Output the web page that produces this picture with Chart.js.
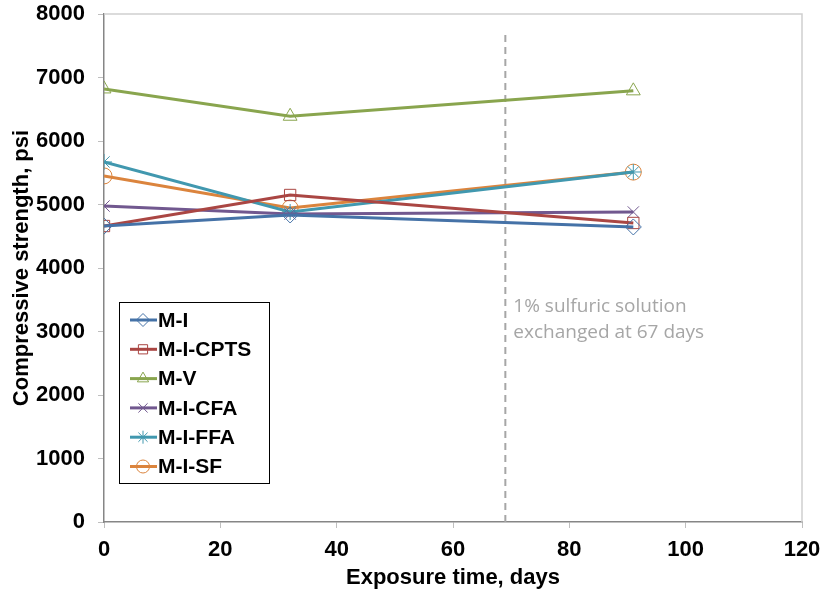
<!DOCTYPE html>
<html>
<head>
<meta charset="utf-8">
<script src="https://cdn.jsdelivr.net/npm/chart.js@4"></script>
<style>
html,body{margin:0;padding:0;background:#fff;}
#wrap{width:826px;height:600px;}
</style>
</head>
<body>
<div id="wrap"><canvas id="c" width="826" height="600"></canvas></div>
<script>
const days = [0, 32, 91];
const seriesNames = ["M-I", "M-I-CPTS", "M-V", "M-I-CFA", "M-I-FFA", "M-I-SF"];
const mI     = [4660, 4835, 4646];
const mICPTS = [4661, 5150, 4709];
const mV     = [6820, 6390, 6790];
const mICFA  = [4976, 4850, 4882];
const mIFFA  = [5670, 4882, 5512];
const mISF   = [5450, 4945, 5510];
const yTicks = [0, 1000, 2000, 3000, 4000, 5000, 6000, 7000, 8000];
const xTicks = [0, 20, 40, 60, 80, 100, 120];
const exchangeDay = 69;
const annotationLines = ["1% sulfuric solution", "exchanged at 67 days"];

const colors = ["#4572A7", "#AA4643", "#89A54E", "#71588F", "#4198AF", "#DB843D"];
const markers = ["rectRot", "rect", "triangle", "crossRot", "star", "circle"];
const values = [mI, mICPTS, mV, mICFA, mIFFA, mISF];

const datasets = seriesNames.map((n, i) => ({
  label: n,
  data: days.map((d, j) => ({x: d, y: values[i][j]})),
  borderColor: colors[i],
  backgroundColor: 'rgba(0,0,0,0)',
  borderWidth: 3,
  pointStyle: markers[i],
  pointRadius: 8,
  pointBorderWidth: 1,
  pointBorderColor: colors[i],
  pointBackgroundColor: 'rgba(0,0,0,0)',
  tension: 0
}));

const decorPlugin = {
  id: 'decor',
  beforeDatasetsDraw(chart) {
    const {ctx, chartArea: a, scales: {x, y}} = chart;
    ctx.save();
    ctx.strokeStyle = '#d0d0d0';
    ctx.lineWidth = 1.5;
    ctx.beginPath();
    ctx.moveTo(a.left, a.top); ctx.lineTo(a.right, a.top); ctx.lineTo(a.right, a.bottom);
    ctx.stroke();
    const px = x.getPixelForValue(exchangeDay);
    ctx.strokeStyle = '#a6a6a6';
    ctx.lineWidth = 2;
    ctx.setLineDash([7, 5]);
    ctx.beginPath();
    ctx.moveTo(px, y.getPixelForValue(7670));
    ctx.lineTo(px, y.getPixelForValue(0));
    ctx.stroke();
    ctx.setLineDash([]);
    ctx.fillStyle = '#a6a6a6';
    ctx.font = '19px "Open Sans", "Liberation Sans", sans-serif';
    ctx.textBaseline = 'middle';
    ctx.textAlign = 'left';
    annotationLines.forEach((t, i) => ctx.fillText(t, px + 8, 307 + i * 26));
    ctx.restore();
  },
  afterDraw(chart) {
    const {ctx} = chart;
    ctx.save();
    const bx = 119, by = 302, bw = 150, bh = 181;
    ctx.fillStyle = '#fff';
    ctx.fillRect(bx, by, bw, bh);
    ctx.strokeStyle = '#000';
    ctx.lineWidth = 1;
    ctx.strokeRect(bx + 0.5, by + 0.5, bw, bh);
    chart.data.datasets.forEach((ds, i) => {
      const cy = 320 + i * 29.3;
      ctx.strokeStyle = ds.borderColor;
      ctx.lineWidth = 3;
      ctx.beginPath();
      ctx.moveTo(130, cy); ctx.lineTo(157, cy);
      ctx.stroke();
      ctx.lineWidth = 1;
      ctx.fillStyle = 'rgba(0,0,0,0)';
      Chart.helpers.drawPoint(ctx, {pointStyle: ds.pointStyle, radius: 6.5, rotation: 0, borderWidth: 1}, 143, cy);
      ctx.fillStyle = '#000';
      ctx.font = 'bold 21px "Liberation Sans", Arial, sans-serif';
      ctx.textBaseline = 'middle';
      ctx.textAlign = 'left';
      ctx.fillText(ds.label, 158, cy + 1);
    });
    ctx.restore();
  }
};

const tickFont = {family: '"Liberation Sans", Arial, sans-serif', size: 22, weight: 'bold'};

new Chart(document.getElementById('c'), {
  type: 'line',
  data: {datasets},
  options: {
    responsive: false,
    animation: false,
    devicePixelRatio: 1,
    layout: {padding: {left: 0, right: 24, top: 14, bottom: 0}},
    plugins: {legend: {display: false}, tooltip: {enabled: false}},
    scales: {
      x: {
        type: 'linear',
        min: 0, max: 120,
        afterBuildTicks(s) { s.ticks = xTicks.map(v => ({value: v})); },
        afterFit(s) { s.height = 78; s.paddingLeft = 0; s.paddingRight = 0; },
        grid: {drawOnChartArea: false, tickLength: 6, color: '#bfbfbf'},
        border: {color: '#868686', width: 1.5},
        ticks: {color: '#000', font: tickFont, padding: 9, maxRotation: 0, callback: v => String(v)},
        title: {display: true, text: 'Exposure time, days', color: '#000', font: tickFont, padding: {top: 0, bottom: 9}}
      },
      y: {
        type: 'linear',
        min: 0, max: 8000,
        afterBuildTicks(s) { s.ticks = yTicks.map(v => ({value: v})); },
        afterFit(s) { s.width = 104; s.paddingTop = 0; s.paddingBottom = 0; },
        grid: {drawOnChartArea: false, tickLength: 6, color: '#bfbfbf'},
        border: {color: '#868686', width: 1.5},
        ticks: {color: '#000', font: tickFont, padding: 13, callback: v => String(v)},
        title: {display: true, text: 'Compressive strength, psi', color: '#000', font: tickFont, padding: {top: 9, bottom: 0}}
      }
    }
  },
  plugins: [decorPlugin]
});
</script>
</body>
</html>
